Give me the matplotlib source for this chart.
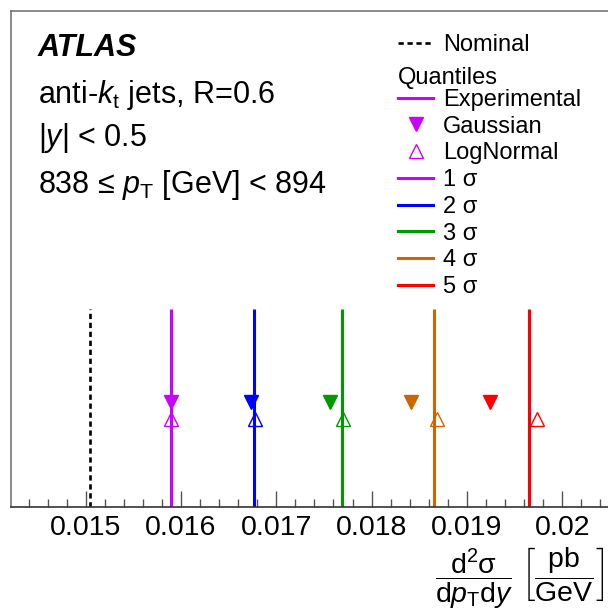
import matplotlib
matplotlib.use("Agg")
import matplotlib.pyplot as plt
from matplotlib.lines import Line2D
from matplotlib.ticker import MultipleLocator, FuncFormatter

plt.rcParams["font.family"] = ["Liberation Sans", "DejaVu Sans"]
plt.rcParams["mathtext.fontset"] = "custom"
plt.rcParams["mathtext.rm"] = "Liberation Sans"
plt.rcParams["mathtext.it"] = "Liberation Sans:italic"
plt.rcParams["mathtext.bf"] = "Liberation Sans:bold"

# values
NOMINAL = 0.01505
SIGMA_LABELS = ["1 σ", "2 σ", "3 σ", "4 σ", "5 σ"]
EXPERIMENTAL = [0.015892, 0.016762, 0.017692, 0.018650, 0.019654]
GAUSSIAN = [0.015892, 0.016730, 0.017564, 0.018410, 0.019242]
LOGNORMAL = [0.015898, 0.016776, 0.017703, 0.018688, 0.019733]

COLORS = ["#cc00ff", "#0000ff", "#009900", "#cc6600", "#ff0000"]
LINE_TOP = 0.40
Y_GAUSS = 0.212
Y_LOGN = 0.177

W, H = 608, 615


def fx(x):
    return x / W


def fy(y):
    return 1 - y / H


fig = plt.figure(figsize=(W / 100, H / 100), dpi=100)
ax = fig.add_axes([fx(11), fy(507), fx(612 - 11), (507 - 11) / H])
ax.set_xlim(0.014216, 0.014216 + (612 - 11) / 95300)
ax.set_ylim(0, 1)

ax.vlines(NOMINAL, 0, LINE_TOP, colors="black", linestyles=(0, (2.0, 1.4)), linewidth=1.9)
for i, c in enumerate(COLORS):
    ax.vlines(EXPERIMENTAL[i], 0, LINE_TOP, colors=c, linewidth=2.2)
    ax.plot(GAUSSIAN[i], Y_GAUSS, marker="v", color=c, markersize=9.5, linestyle="none")
    ax.plot(LOGNORMAL[i], Y_LOGN, marker="^", markerfacecolor="none", markeredgecolor=c,
            markeredgewidth=1.0, markersize=10, linestyle="none")

ax.xaxis.set_major_locator(MultipleLocator(0.001))
ax.xaxis.set_minor_locator(MultipleLocator(0.0002))
ax.xaxis.set_major_formatter(FuncFormatter(lambda v, p: f"{v:g}"))
ax.tick_params(axis="x", which="major", direction="in", length=11.5, width=1.0,
               color="#555555", labelsize=20.5, pad=6)
ax.tick_params(axis="x", which="minor", direction="in", length=5.8, width=1.0, color="#555555")
ax.set_yticks([])
for side in ["top", "left", "right"]:
    ax.spines[side].set_color("#777777")
    ax.spines[side].set_linewidth(1.2)
ax.spines["bottom"].set_color("#333333")
ax.spines["bottom"].set_linewidth(1.2)

# x-axis title
fig.text(fx(604), fy(578),
         r"$\dfrac{\mathrm{d}^2\mathrm{\sigma}}{\mathrm{d}p_\mathrm{T}\mathrm{d}y}\ "
         r"\left[\dfrac{\mathrm{pb}}{\mathrm{GeV}}\right]$",
         ha="right", va="center", fontsize=20.5)

# labels on the left
fig.text(fx(38), fy(56), "ATLAS", fontsize=22, fontweight="bold", fontstyle="italic")
fig.text(fx(38), fy(103), r"anti-$k_\mathrm{t}$ jets, R=0.6", fontsize=22)
fig.text(fx(38), fy(146), r"$|y|$ < 0.5", fontsize=22)
fig.text(fx(38), fy(193), r"838 ≤ $p_\mathrm{T}$ [GeV] < 894", fontsize=22)

# legends
nom_handle = Line2D([], [], color="black", linestyle=(0, (2.0, 1.4)), linewidth=1.9)
leg1 = fig.legend([nom_handle], ["Nominal"], loc="upper left",
                  bbox_to_anchor=(fx(398), fy(34)), frameon=False, fontsize=17,
                  borderpad=0, borderaxespad=0, handlelength=1.5, handletextpad=0.4)

handles = [
    Line2D([], [], color=COLORS[0], linewidth=2.2),
    Line2D([], [], color=COLORS[0], marker="v", markersize=9.5, linestyle="none"),
    Line2D([], [], color=COLORS[0], marker="^", markerfacecolor="none",
           markeredgewidth=1.0, markersize=10, linestyle="none"),
]
labels = ["Experimental", "Gaussian", "LogNormal"]
for lab, c in zip(SIGMA_LABELS, COLORS):
    handles.append(Line2D([], [], color=c, linewidth=2.2))
    labels.append(lab)
leg2 = fig.legend(handles, labels, loc="upper left", title="Quantiles",
                  title_fontsize=17, alignment="left",
                  bbox_to_anchor=(fx(398), fy(67)), frameon=False, fontsize=17,
                  borderpad=0, borderaxespad=0, handlelength=1.5, handletextpad=0.4,
                  labelspacing=0.2)
leg2._legend_box.sep = 0

fig.savefig("out.png", dpi=100)
